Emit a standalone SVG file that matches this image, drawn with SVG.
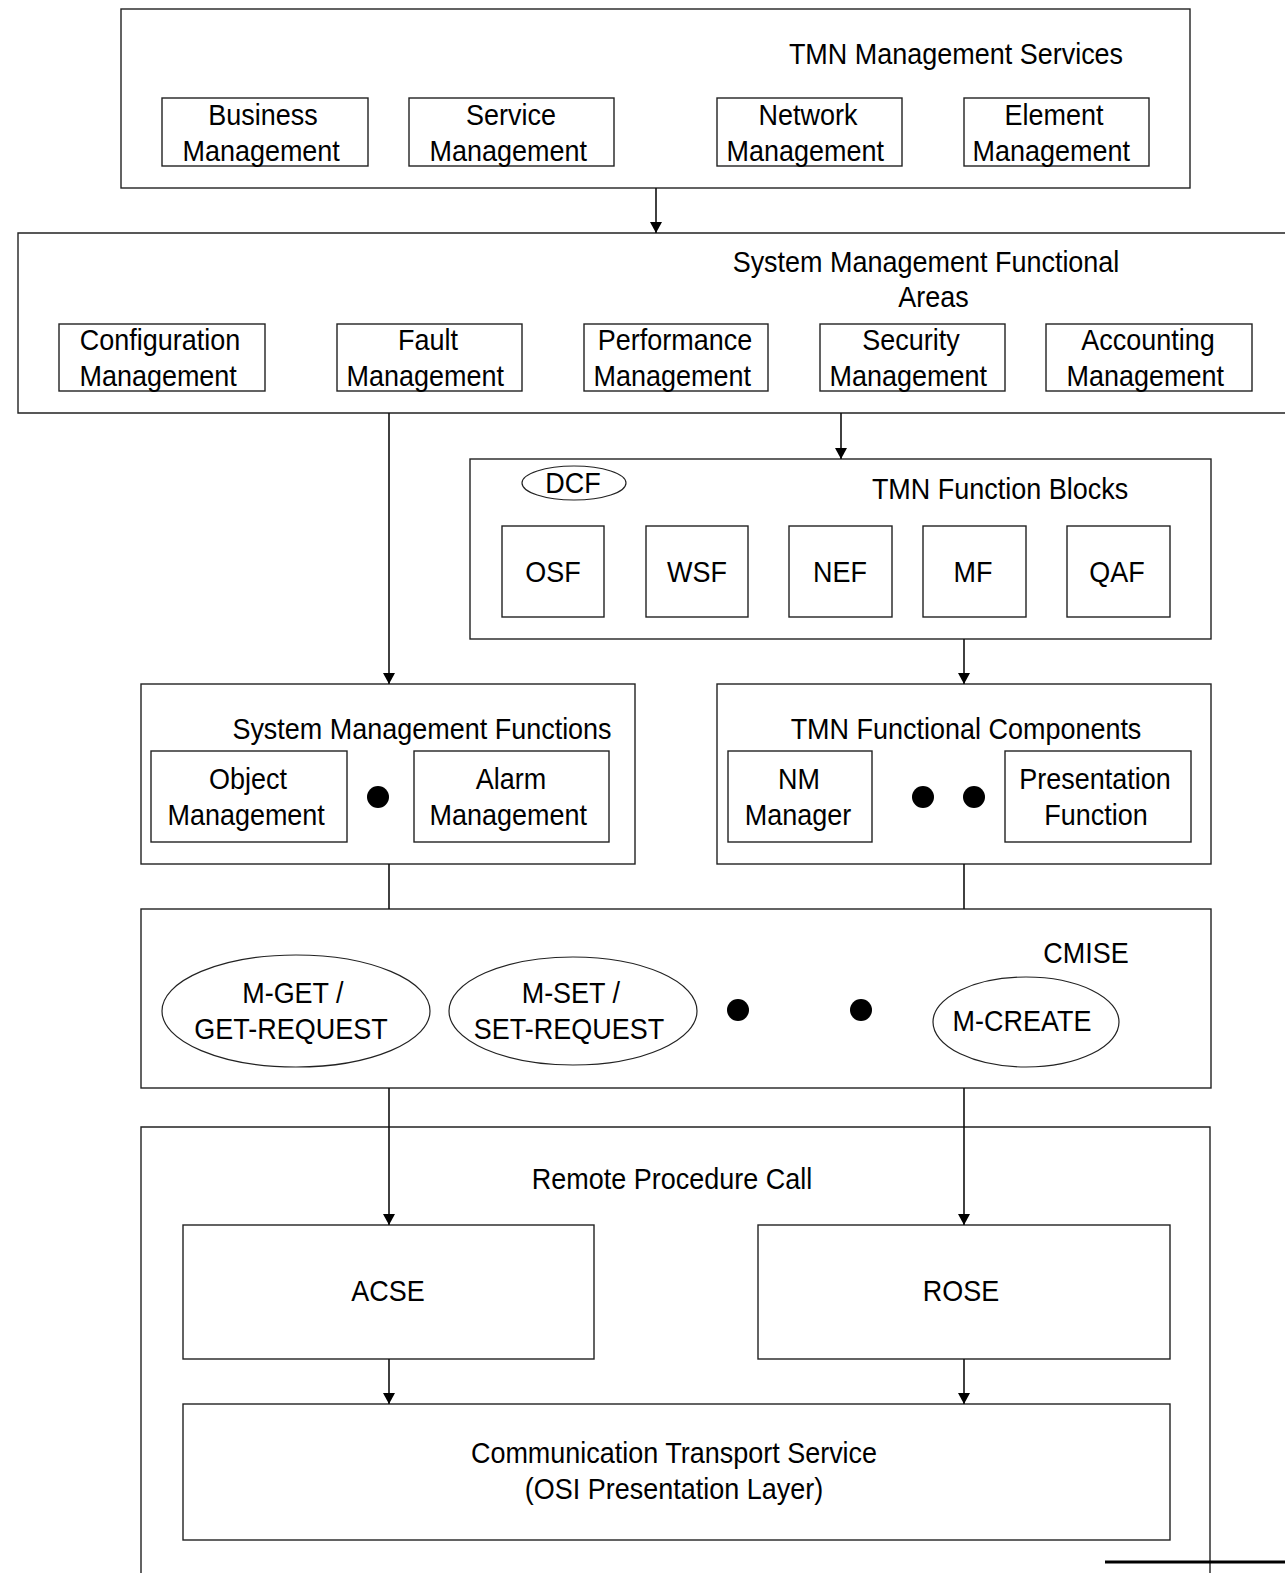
<svg xmlns="http://www.w3.org/2000/svg" width="1285" height="1573" viewBox="0 0 1285 1573">
  <style>
    .box { fill: #fff; stroke: #222; stroke-width: 1.4; }
    .frame { fill: none; stroke: #222; stroke-width: 1.4; }
    .ell { fill: #fff; stroke: #222; stroke-width: 1.2; }
    .dot { fill: #000; }
    .t { font-family: "Liberation Sans", Arial, sans-serif; font-size: 29px; fill: #000; text-anchor: middle; }
    .wire { stroke: #111; stroke-width: 1.6; fill: none; }
  </style>
  <defs>
    <marker id="arr" viewBox="0 0 11 12" refX="11" refY="6" markerWidth="11" markerHeight="12" markerUnits="userSpaceOnUse" orient="auto">
      <path d="M0,0 L11,6 L0,12 Z" fill="#000"/>
    </marker>
  </defs>

  <!-- TMN management services layer -->
  <g id="tmn-services">
    <rect class="box" x="121" y="9" width="1069" height="179"/>
    <text class="t" transform="translate(956 64) scale(.93 1)">TMN Management Services</text>
  </g>
  <g id="business-mgmt">
    <rect class="box" x="162" y="98" width="206" height="68"/>
    <text class="t" transform="translate(263 125) scale(.93 1)"><tspan x="0" y="0">Business</tspan><tspan x="-2" y="36">Management</tspan></text>
  </g>
  <g id="service-mgmt">
    <rect class="box" x="409" y="98" width="205" height="68"/>
    <text class="t" transform="translate(511 125) scale(.93 1)"><tspan x="0" y="0">Service</tspan><tspan x="-3" y="36">Management</tspan></text>
  </g>
  <g id="network-mgmt">
    <rect class="box" x="717" y="98" width="185" height="68"/>
    <text class="t" transform="translate(808 125) scale(.93 1)"><tspan x="0" y="0">Network</tspan><tspan x="-3" y="36">Management</tspan></text>
  </g>
  <g id="element-mgmt">
    <rect class="box" x="964" y="98" width="185" height="68"/>
    <text class="t" transform="translate(1054 125) scale(.93 1)"><tspan x="0" y="0">Element</tspan><tspan x="-3" y="36">Management</tspan></text>
  </g>

  <!-- System management functional areas (runs off the right edge) -->
  <g id="smfa">
    <path class="frame" d="M1290 233 H18 V413 H1290"/>
    <text class="t" transform="translate(926 272) scale(.93 1)"><tspan x="0" y="0">System Management Functional</tspan><tspan x="8" y="35">Areas</tspan></text>
  </g>
  <g id="config-mgmt">
    <rect class="box" x="59" y="324" width="206" height="67"/>
    <text class="t" transform="translate(160 350) scale(.93 1)"><tspan x="0" y="0">Configuration</tspan><tspan x="-2" y="36">Management</tspan></text>
  </g>
  <g id="fault-mgmt">
    <rect class="box" x="337" y="324" width="185" height="67"/>
    <text class="t" transform="translate(428 350) scale(.93 1)"><tspan x="0" y="0">Fault</tspan><tspan x="-3" y="36">Management</tspan></text>
  </g>
  <g id="performance-mgmt">
    <rect class="box" x="584" y="324" width="184" height="67"/>
    <text class="t" transform="translate(675 350) scale(.93 1)"><tspan x="0" y="0">Performance</tspan><tspan x="-3" y="36">Management</tspan></text>
  </g>
  <g id="security-mgmt">
    <rect class="box" x="820" y="324" width="185" height="67"/>
    <text class="t" transform="translate(911 350) scale(.93 1)"><tspan x="0" y="0">Security</tspan><tspan x="-3" y="36">Management</tspan></text>
  </g>
  <g id="accounting-mgmt">
    <rect class="box" x="1046" y="324" width="206" height="67"/>
    <text class="t" transform="translate(1148 350) scale(.93 1)"><tspan x="0" y="0">Accounting</tspan><tspan x="-3" y="36">Management</tspan></text>
  </g>

  <!-- TMN function blocks -->
  <g id="function-blocks">
    <rect class="box" x="470" y="459" width="741" height="180"/>
    <text class="t" transform="translate(1000 499) scale(.93 1)">TMN Function Blocks</text>
  </g>
  <g id="dcf">
    <ellipse class="ell" cx="574" cy="483" rx="52" ry="17"/>
    <text class="t" transform="translate(573 493) scale(.93 1)">DCF</text>
  </g>
  <g id="osf">
    <rect class="box" x="502" y="526" width="102" height="91"/>
    <text class="t" transform="translate(553 582) scale(.93 1)">OSF</text>
  </g>
  <g id="wsf">
    <rect class="box" x="646" y="526" width="102" height="91"/>
    <text class="t" transform="translate(697 582) scale(.93 1)">WSF</text>
  </g>
  <g id="nef">
    <rect class="box" x="789" y="526" width="103" height="91"/>
    <text class="t" transform="translate(840 582) scale(.93 1)">NEF</text>
  </g>
  <g id="mf">
    <rect class="box" x="923" y="526" width="103" height="91"/>
    <text class="t" transform="translate(973 582) scale(.93 1)">MF</text>
  </g>
  <g id="qaf">
    <rect class="box" x="1067" y="526" width="103" height="91"/>
    <text class="t" transform="translate(1117 582) scale(.93 1)">QAF</text>
  </g>

  <!-- System management functions -->
  <g id="smf">
    <rect class="box" x="141" y="684" width="494" height="180"/>
    <text class="t" transform="translate(422 739) scale(.93 1)">System Management Functions</text>
    <circle class="dot" cx="378" cy="797" r="11"/>
  </g>
  <g id="object-mgmt">
    <rect class="box" x="151" y="751" width="196" height="91"/>
    <text class="t" transform="translate(248 789) scale(.93 1)"><tspan x="0" y="0">Object</tspan><tspan x="-2" y="36">Management</tspan></text>
  </g>
  <g id="alarm-mgmt">
    <rect class="box" x="414" y="751" width="195" height="91"/>
    <text class="t" transform="translate(511 789) scale(.93 1)"><tspan x="0" y="0">Alarm</tspan><tspan x="-3" y="36">Management</tspan></text>
  </g>

  <!-- TMN functional components -->
  <g id="tmn-fc">
    <rect class="box" x="717" y="684" width="494" height="180"/>
    <text class="t" transform="translate(966 739) scale(.93 1)">TMN Functional Components</text>
    <circle class="dot" cx="923" cy="797" r="11"/>
    <circle class="dot" cx="974" cy="797" r="11"/>
  </g>
  <g id="nm-manager">
    <rect class="box" x="728" y="751" width="144" height="91"/>
    <text class="t" transform="translate(799 789) scale(.93 1)"><tspan x="0" y="0">NM</tspan><tspan x="-1" y="36">Manager</tspan></text>
  </g>
  <g id="presentation-fn">
    <rect class="box" x="1005" y="751" width="186" height="91"/>
    <text class="t" transform="translate(1095 789) scale(.93 1)"><tspan x="0" y="0">Presentation</tspan><tspan x="1" y="36">Function</tspan></text>
  </g>

  <!-- CMISE services -->
  <g id="cmise">
    <rect class="box" x="141" y="909" width="1070" height="179"/>
    <text class="t" transform="translate(1086 963) scale(.93 1)">CMISE</text>
    <circle class="dot" cx="738" cy="1010" r="11"/>
    <circle class="dot" cx="861" cy="1010" r="11"/>
  </g>
  <g id="m-get">
    <ellipse class="ell" cx="296" cy="1011" rx="134" ry="56"/>
    <text class="t" transform="translate(291 1003) scale(.93 1)"><tspan x="2" y="0">M-GET /</tspan><tspan x="0" y="36">GET-REQUEST</tspan></text>
  </g>
  <g id="m-set">
    <ellipse class="ell" cx="573" cy="1011" rx="124" ry="54"/>
    <text class="t" transform="translate(569 1003) scale(.93 1)"><tspan x="2" y="0">M-SET /</tspan><tspan x="0" y="36">SET-REQUEST</tspan></text>
  </g>
  <g id="m-create">
    <ellipse class="ell" cx="1026" cy="1022" rx="93" ry="45"/>
    <text class="t" transform="translate(1022 1031) scale(.93 1)">M-CREATE</text>
  </g>

  <!-- Remote procedure call layer (continues below the bottom edge) -->
  <g id="rpc">
    <path class="frame" d="M141 1580 V1127 H1210 V1580"/>
    <text class="t" transform="translate(672 1189) scale(.93 1)">Remote Procedure Call</text>
  </g>
  <g id="acse">
    <rect class="box" x="183" y="1225" width="411" height="134"/>
    <text class="t" transform="translate(388 1301) scale(.93 1)">ACSE</text>
  </g>
  <g id="rose">
    <rect class="box" x="758" y="1225" width="412" height="134"/>
    <text class="t" transform="translate(961 1301) scale(.93 1)">ROSE</text>
  </g>
  <g id="transport">
    <rect class="box" x="183" y="1404" width="987" height="136"/>
    <text class="t" transform="translate(674 1463) scale(.93 1)"><tspan x="0" y="0">Communication Transport Service</tspan><tspan x="0" y="36">(OSI Presentation Layer)</tspan></text>
  </g>

  <!-- Connectors -->
  <g id="connectors">
    <line class="wire" x1="656" y1="188" x2="656" y2="233" marker-end="url(#arr)"/>
    <line class="wire" x1="389" y1="413" x2="389" y2="684" marker-end="url(#arr)"/>
    <line class="wire" x1="841" y1="413" x2="841" y2="459" marker-end="url(#arr)"/>
    <line class="wire" x1="964" y1="639" x2="964" y2="684" marker-end="url(#arr)"/>
    <line class="wire" x1="389" y1="864" x2="389" y2="909"/>
    <line class="wire" x1="964" y1="864" x2="964" y2="909"/>
    <line class="wire" x1="389" y1="1088" x2="389" y2="1225" marker-end="url(#arr)"/>
    <line class="wire" x1="964" y1="1088" x2="964" y2="1225" marker-end="url(#arr)"/>
    <line class="wire" x1="389" y1="1359" x2="389" y2="1404" marker-end="url(#arr)"/>
    <line class="wire" x1="964" y1="1359" x2="964" y2="1404" marker-end="url(#arr)"/>
    <line x1="1105" y1="1562" x2="1285" y2="1562" stroke="#000" stroke-width="3"/>
  </g>
</svg>
